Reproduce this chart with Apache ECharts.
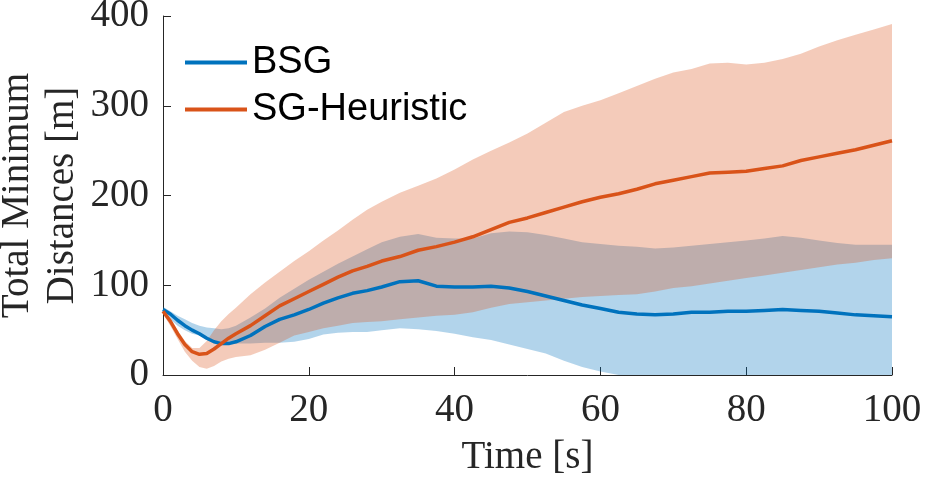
<!DOCTYPE html>
<html>
<head>
<meta charset="utf-8">
<script src="https://cdn.jsdelivr.net/npm/echarts@6/dist/echarts.min.js"></script>
<style>
  html, body { margin: 0; padding: 0; background: #fff; }
  #chart { width: 929px; height: 479px; }
</style>
</head>
<body>
<div id="chart"></div>
<script>
// time stamps [s]
var time = [0, 1, 2, 3, 4, 5, 6, 7, 8, 9, 10,
    12, 14, 16, 18, 20, 22, 24, 26, 28, 30,
    32.5, 35, 37.5, 40, 42.5, 45, 47.5, 50, 52.5, 55, 57.5, 60, 62.5, 65, 67.5,
    70, 72.5, 75, 77.5, 80, 82.5, 85, 87.5, 90, 92.5, 95, 97.5, 100];

// BSG mean and band
var bsgMean = [73, 68, 61, 55, 50, 46, 41, 37, 35, 35, 37,
    44, 54, 62, 67, 73, 80, 86, 91, 94, 98,
    104, 105, 99, 98, 98, 99, 97, 93, 88, 83, 78, 74, 70, 68, 67,
    68, 70, 70, 71, 71, 72, 73, 72, 71, 69, 67, 66, 65];
var bsgUpper = [76, 71, 66, 62, 58, 55, 53, 52, 51, 52, 55,
    64, 74, 86, 96, 106, 115, 124, 132, 140, 148,
    154, 157, 153, 152, 152, 158, 160, 159, 156, 152, 148, 146, 144, 143, 141,
    142, 144, 146, 148, 150, 152, 155, 153, 150, 147, 145, 145, 145];
var bsgLower = [70, 62, 55, 50, 46, 44, 42, 39, 36, 35, 35,
    35, 36, 36, 37, 40, 45, 47, 48, 48, 50,
    52, 51, 49, 46, 42, 39, 34, 29, 24, 16, 9, 4, 0, 0, 0,
    0, 0, 0, 0, 0, 0, 0, 0, 0, 0, 0, 0, 0];

// SG-Heuristic mean and band
var sghMean = [71, 60, 46, 34, 26, 23, 24, 29, 35, 41, 46,
    55, 66, 77, 85, 93, 101, 109, 116, 121, 127,
    132, 139, 143, 148, 154, 162, 170, 175, 181, 187, 193, 198, 202, 207, 213,
    217, 221, 225, 226, 227, 230, 233, 239, 243, 247, 251, 256, 261];
var sghUpper = [72, 62, 50, 38, 30, 30, 38, 50, 60, 68, 75,
    90, 103, 115, 127, 138, 150, 161, 173, 184, 193,
    203, 211, 219, 229, 240, 250, 259, 269, 281, 293, 300, 306, 314, 322, 330,
    337, 341, 347, 348, 346, 348, 352, 358, 366, 373, 379, 385, 391];
var sghLower = [68, 55, 40, 26, 16, 9, 7, 10, 15, 18, 20,
    22, 28, 36, 44, 48, 52, 55, 58, 59, 60,
    62, 64, 66, 67, 70, 75, 79, 81, 83, 85, 87, 88, 89, 90, 93,
    97, 99, 102, 105, 108, 111, 114, 117, 120, 123, 125, 128, 130];

var xTicks = [0, 20, 40, 60, 80, 100];
var yTicks = [0, 100, 200, 300, 400];

var BLUE = '#0072BD';
var ORANGE = '#D95319';
var AXIS = '#262626';

function pairs(ys) {
    return time.map(function (t, i) { return [t, ys[i]]; });
}

// shaded band between lower and upper, one polygon through the axes' coords
function bandSeries(name, lower, upper, color) {
    return {
        name: name,
        type: 'custom',
        silent: true,
        data: time.map(function (t, i) { return [t, lower[i], upper[i]]; }),
        encode: { x: 0, y: [1, 2] },
        renderItem: function (params, api) {
            if (params.dataIndex !== 0) {
                return null;
            }
            var pts = [];
            for (var i = 0; i < time.length; i++) {
                pts.push(api.coord([time[i], upper[i]]));
            }
            for (var j = time.length - 1; j >= 0; j--) {
                pts.push(api.coord([time[j], lower[j]]));
            }
            return {
                type: 'polygon',
                shape: { points: pts },
                style: { fill: color, opacity: 0.3 }
            };
        }
    };
}

function meanSeries(name, ys, color) {
    return {
        name: name,
        type: 'line',
        data: pairs(ys),
        symbol: 'none',
        itemStyle: { color: color },
        lineStyle: { color: color, width: 3.5 },
        silent: true
    };
}

var dom = document.getElementById('chart');
var myChart = echarts.init(dom);
var option = {
    animation: false,
    backgroundColor: '#fff',
    grid: { left: 163, right: 37, top: 16, bottom: 104, containLabel: false, outerBoundsMode: 'none' },
    legend: {
        data: ['BSG', 'SG-Heuristic'],
        orient: 'vertical',
        left: 185,
        top: 39,
        padding: 0,
        itemGap: 0,
        itemWidth: 62,
        itemHeight: 4,
        icon: 'rect',
        textStyle: {
            fontFamily: 'Liberation Sans',
            fontSize: 38,
            lineHeight: 47,
            color: '#000'
        }
    },
    xAxis: {
        type: 'value',
        min: xTicks[0],
        max: xTicks[xTicks.length - 1],
        interval: 20,
        name: 'Time [s]',
        nameLocation: 'middle',
        nameGap: 63,
        nameMoveOverlap: false,
        nameTextStyle: { fontFamily: 'Liberation Serif', fontSize: 39, color: AXIS },
        axisLine: { lineStyle: { color: AXIS, width: 1 } },
        axisTick: { inside: true, length: 8, lineStyle: { color: AXIS } },
        axisLabel: { fontFamily: 'Liberation Serif', fontSize: 39, color: AXIS, margin: 16 },
        splitLine: { show: false }
    },
    yAxis: {
        type: 'value',
        min: yTicks[0],
        max: yTicks[yTicks.length - 1],
        interval: 100,
        name: 'Total Minimum\nDistances [m]',
        nameLocation: 'middle',
        nameGap: 78,
        nameMoveOverlap: false,
        nameTextStyle: { fontFamily: 'Liberation Serif', fontSize: 39, lineHeight: 45, color: AXIS },
        axisLine: { show: true, lineStyle: { color: AXIS, width: 1 } },
        axisTick: { show: true, inside: true, length: 8, lineStyle: { color: AXIS } },
        axisLabel: { fontFamily: 'Liberation Serif', fontSize: 39, color: AXIS, margin: 14 },
        splitLine: { show: false }
    },
    series: [
        bandSeries('bsg_band', bsgLower, bsgUpper, BLUE),
        meanSeries('BSG', bsgMean, BLUE),
        bandSeries('sgh_band', sghLower, sghUpper, ORANGE),
        meanSeries('SG-Heuristic', sghMean, ORANGE)
    ]
};
myChart.setOption(option);
</script>
</body>
</html>
